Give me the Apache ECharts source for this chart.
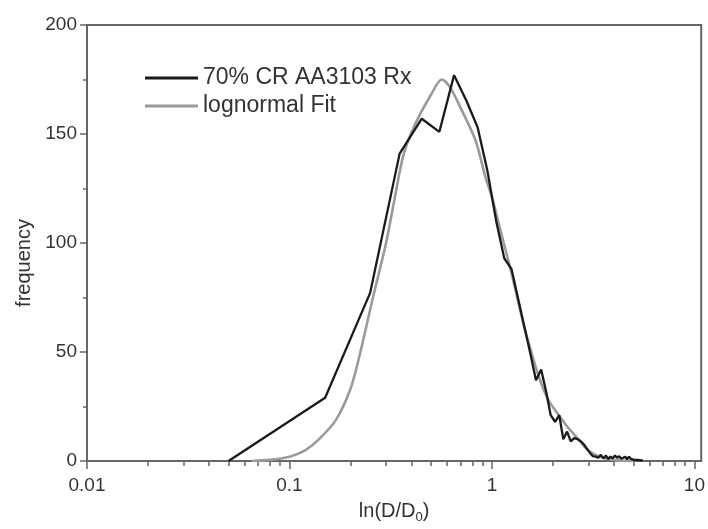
<!DOCTYPE html>
<html>
<head>
<meta charset="utf-8">
<script src="https://cdn.jsdelivr.net/npm/echarts@6/dist/echarts.min.js"></script>
<style>
html,body{margin:0;padding:0;background:#fff;}
#chart{width:708px;height:529px;}
</style>
</head>
<body>
<div id="chart"></div>
<script>
// Measured histogram (bin centres) : 70% CR AA3103 Rx
var rxX = [0.05,0.15,0.25,0.35,0.45,0.55,0.65,0.75,0.85,0.95,1.05,1.15,1.25,1.35,1.45,1.55,1.65,1.75,1.85,1.95,2.05,2.15,2.25,2.35,2.45,2.55,2.65,2.75,2.85,2.95,3.05,3.15,3.25,3.35,3.45,3.55,3.65,3.75,3.85,3.95,4.05,4.15,4.25,4.35,4.45,4.55,4.65,4.75,4.85,4.95,5.05,5.15,5.25,5.35,5.45,5.55];
var rxY = [0,29,77,141,157,151,177,165,153,133,110,93,88,74,61,49,37,42,32,21,18,21,10,13.5,9,10.5,10,9,7.5,5.5,3.7,2.2,2,1.5,2.8,1.2,2.5,1,2,1.2,2.5,1.5,2.2,1,1.5,2,0.8,2,1,1.2,0.5,1,0.5,0.8,0.3,0.5];

// Lognormal fit curve
var fitX = [0.065,0.08,0.1,0.12,0.14,0.17,0.2,0.22,0.26,0.3,0.33,0.367,0.42,0.5,0.565,0.62,0.7,0.83,0.93,1.0,1.1,1.25,1.43,1.51,1.7,1.9,2.1,2.3,2.5,2.7,2.9,3.1,3.4,3.7,4.2,5.0];
var fitY = [0,0.5,2,5,10,19,33,47,76,100,120,141,155,168,175,171.5,162,147,130,121,106,86,63,55,39,28,22,17,13,9.5,6,3.8,2,1,0.3,0];

var seriesNames = ['70% CR AA3103 Rx', 'lognormal Fit'];
var xMajorTicks = [0.01, 0.1, 1, 10];
var xTickLabels = ['0.01', '0.1', '1', '10'];
var xMinorTicks = [0.02,0.03,0.04,0.05,0.06,0.07,0.08,0.09,0.2,0.3,0.4,0.5,0.6,0.7,0.8,0.9,2,3,4,5,6,7,8,9];
var yMin = 0, yMax = 200, yStep = 50;

function pairs(xs, ys){ return xs.map(function(x,i){ return [x, ys[i]]; }); }

var FONT = '"Liberation Sans", Arial, Helvetica, sans-serif';
var AX = '#666';
var TXT = '#333';

var chart = echarts.init(document.getElementById('chart'), null, {renderer:'canvas'});
chart.setOption({
  backgroundColor: '#fff',
  animation: false,
  textStyle: { fontFamily: FONT },
  grid: { left: 87, right: 4, top: 25, bottom: 59, show: true, borderColor: AX, borderWidth: 2, backgroundColor: 'transparent' },
  legend: {
    orient: 'vertical', left: 140, top: 61,
    data: seriesNames,
    icon: 'rect', itemWidth: 53, itemHeight: 3, itemGap: 4,
    textStyle: { fontSize: 23, color: TXT, fontFamily: FONT, lineHeight: 24, padding: [0,0,0,0] }
  },
  xAxis: [{
    type: 'log', logBase: 10, min: 0.01, max: 10.8,
    name: '{a|ln(D/D}{s|0}{a|)}', nameLocation: 'middle', nameGap: 38,
    nameTextStyle: { rich: { a: { fontSize: 20, color: TXT, fontFamily: FONT }, s: { fontSize: 13, color: TXT, fontFamily: FONT, padding: [12,0,0,0] } } },
    axisLine: { show: true, lineStyle: { color: AX, width: 2 } },
    axisTick: { show: true, inside: false, length: 8, lineStyle: { color: AX, width: 1.5 }, customValues: xMajorTicks },
    axisLabel: { show: true, fontSize: 19, color: TXT, margin: 15, customValues: xMajorTicks,
      formatter: function(v){ var i = xMajorTicks.indexOf(v); return i >= 0 ? xTickLabels[i] : ''; } },
    splitLine: { show: false }, minorTick: { show: false }
  }, {
    type: 'log', logBase: 10, min: 0.01, max: 10.8, position: 'bottom', gridIndex: 0,
    axisLine: { show: false },
    axisTick: { show: true, inside: false, length: 5, lineStyle: { color: AX, width: 1.5 }, customValues: xMinorTicks },
    axisLabel: { show: false },
    splitLine: { show: false }
  }],
  yAxis: {
    type: 'value', min: yMin, max: yMax, interval: yStep,
    name: 'frequency', nameLocation: 'middle', nameGap: 52, nameRotate: 90,
    nameTextStyle: { fontSize: 20, color: TXT, fontFamily: FONT, padding: [0, 40, 0, 0] },
    axisLine: { show: true, lineStyle: { color: AX, width: 2 } },
    axisTick: { show: true, inside: false, length: 7, lineStyle: { color: AX, width: 1.5 } },
    minorTick: { show: true, splitNumber: 2, length: 4, lineStyle: { color: AX, width: 1.5 } },
    axisLabel: { fontSize: 19, color: TXT, margin: 10 },
    splitLine: { show: false }
  },
  series: [{
    name: seriesNames[1], type: 'line', data: pairs(fitX, fitY),
    smooth: 0.3, showSymbol: false, symbol: 'none', z: 2,
    lineStyle: { color: '#9a9a9a', width: 2.6 }, itemStyle: { color: '#9a9a9a' }
  }, {
    name: seriesNames[0], type: 'line', data: pairs(rxX, rxY),
    smooth: false, showSymbol: false, symbol: 'none', z: 3,
    lineStyle: { color: '#1a1a1a', width: 2.3 }, itemStyle: { color: '#1a1a1a' }
  }]
});
</script>
</body>
</html>
